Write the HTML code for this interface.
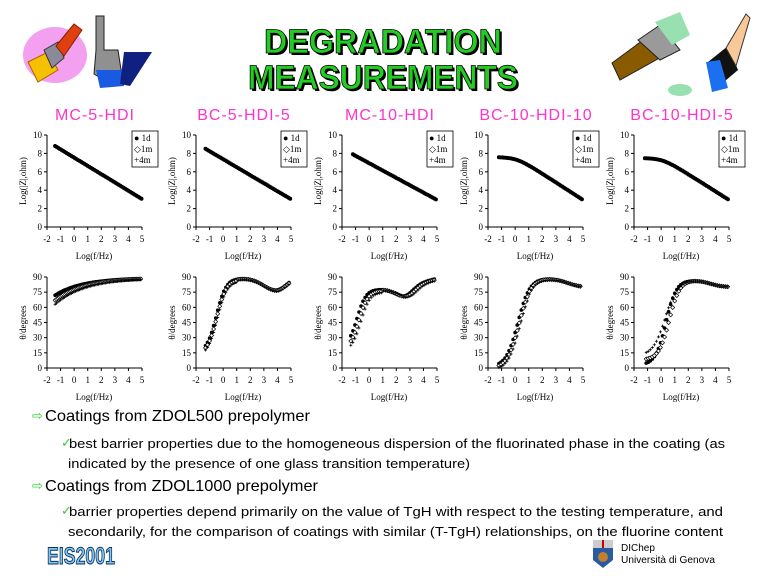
<!DOCTYPE html>
<html><head><meta charset="utf-8"><style>
html,body{margin:0;padding:0;background:#fff;width:768px;height:576px;overflow:hidden}
svg{display:block}
text{font-family:"Liberation Sans",sans-serif}
.s{font-family:"Liberation Serif",serif;font-size:9px}
</style></head><body>
<svg id="s" width="768" height="576" viewBox="0 0 768 576" xmlns="http://www.w3.org/2000/svg">
<ellipse cx="55" cy="55" rx="32" ry="28" fill="#f4a0f0"/>
<polygon points="28,62 48,52 58,70 38,82" fill="#f5c000" stroke="#b06000"/>
<polygon points="44,50 58,42 64,58 52,68" fill="#8a8a9a" stroke="#333"/>
<polygon points="56,46 74,24 82,30 64,56" fill="#e04010" stroke="#802000"/>
<path d="M96,16 L104,16 L104,50 L118,50 L122,76 L104,80 L94,74 L96,50 Z" fill="#909090" stroke="#222"/>
<polygon points="96,70 122,70 124,86 100,88" fill="#1a5ae0"/>
<polygon points="124,52 152,52 130,86 120,84" fill="#102080"/>
<polygon points="612,63 650,35 665,55 620,80" fill="#8a5a00" stroke="#222"/>
<polygon points="638,40 660,25 680,50 660,60" fill="#9a9a9a" stroke="#222"/>
<polygon points="655,22 680,12 690,35 672,45" fill="#98e0b0"/>
<ellipse cx="680" cy="90" rx="12" ry="6" fill="#98e0b0"/>
<polygon points="708,62 728,46 738,70 712,92" fill="#111"/>
<polygon points="706,62 712,92 728,88 720,60" fill="#1a70f0"/>
<polygon points="726,48 746,14 750,18 736,66" fill="#f8c898" stroke="#333"/>
<g font-family="Liberation Sans" font-weight="bold" font-size="34" text-anchor="middle">
<text x="385" y="55" fill="#000" textLength="238" lengthAdjust="spacingAndGlyphs">DEGRADATION</text>
<text x="383" y="53" fill="#22cc22" stroke="#000" stroke-width="0.8" textLength="238" lengthAdjust="spacingAndGlyphs">DEGRADATION</text>
<text x="385" y="91" fill="#000" textLength="270" lengthAdjust="spacingAndGlyphs">MEASUREMENTS</text>
<text x="383" y="89" fill="#22cc22" stroke="#000" stroke-width="0.8" textLength="270" lengthAdjust="spacingAndGlyphs">MEASUREMENTS</text>
</g>
<g id="charts"></g>
<g font-size="16" fill="#000">
<text x="32" y="420" fill="#33cc33" font-size="13">⇨</text>
<text x="45" y="421" textLength="265" lengthAdjust="spacingAndGlyphs">Coatings from ZDOL500 prepolymer</text>
<text x="32" y="490" fill="#33cc33" font-size="13">⇨</text>
<text x="45" y="491" textLength="273" lengthAdjust="spacingAndGlyphs">Coatings from ZDOL1000 prepolymer</text>
</g>
<g font-size="13" fill="#000">
<text x="61" y="447" fill="#33cc33">✓</text>
<text x="69" y="448" textLength="656" lengthAdjust="spacingAndGlyphs">best barrier properties due to the homogeneous dispersion of the fluorinated phase in the coating (as</text>
<text x="68" y="468" textLength="402" lengthAdjust="spacingAndGlyphs">indicated by the presence of one glass transition temperature)</text>
<text x="61" y="515" fill="#33cc33">✓</text>
<text x="69" y="516" textLength="654" lengthAdjust="spacingAndGlyphs">barrier properties depend primarily on the value of TgH with respect to the testing temperature, and</text>
<text x="68" y="536" textLength="655" lengthAdjust="spacingAndGlyphs">secondarily, for the comparison of coatings with similar (T-TgH) relationships, on the fluorine content</text>
</g>
<text x="47" y="564" font-size="24" font-weight="bold" fill="#7ec8f0" stroke="#103060" stroke-width="1" textLength="68" lengthAdjust="spacingAndGlyphs">EIS2001</text>
<path d="M593,540 L613,540 L613,560 L603,568 L593,560 Z" fill="#2a5aa0"/>
<rect x="593" y="540" width="20" height="8" fill="#ccc"/>
<rect x="602" y="540" width="2" height="8" fill="#c00"/>
<circle cx="603" cy="557" r="5" fill="#c08030"/>
<text x="621" y="551" font-size="10">DIChep</text>
<text x="621" y="563" font-size="10" textLength="94" lengthAdjust="spacingAndGlyphs">Università di Genova</text>
</svg>
<script>
var X0=[47,196,342,488,634],W=95,names=["MC-5-HDI","BC-5-HDI-5","MC-10-HDI","BC-10-HDI-10","BC-10-HDI-5"];
var g=document.getElementById('charts'),h='';
function sig(x){return 1/(1+Math.exp(-x));}
var top_=[
 function(x){return 8.8-(x+1.4)*0.9;},
 function(x){return 8.5-(x+1.3)*0.87;},
 function(x){return 7.9-(x+1.2)*0.80;},
 function(x){return 7.6-Math.log(1+Math.exp((x-0.1)*2.2))/2.2*0.95;},
 function(x){return 7.5-Math.log(1+Math.exp((x-0.1)*2.2))/2.2*0.93;}];
var bot=[
 [function(x){return 72+17*(1-Math.exp(-(x+1.4)*0.5));},function(x){return 67+22*(1-Math.exp(-(x+1.4)*0.5));},function(x){return 63+26*(1-Math.exp(-(x+1.4)*0.45));}],
 [function(x){return 15+74*sig((x+0.5)*2.8)-12*Math.exp(-Math.pow((x-3.9)/1.3,2))+(x>4?3*(x-4):0);},null,null],
 [function(x){return 20+58*sig((x+0.9)*3)-10*Math.exp(-Math.pow((x-2.6)/0.9,2))+3*Math.max(0,x-1.5);},null,null],
 [function(x){return 1+88*sig((x-0.2)*2.3)-9*sig((x-3.8)*2);},null,null],
 [function(x){return 3+84*sig((x-0.35)*2.6)-7*sig((x-3.6)*2.2);},function(x){return 8+79*sig((x-0.6)*2.6)-7*sig((x-3.6)*2.2);},function(x){return 12+75*sig((x-0.3)*2.2)-7*sig((x-3.6)*2.2);}]];
var starts=[-1.4,-1.3,-1.2,-1.2,-1.2],bstarts=[-1.4,-1.3,-1.35,-1.2,-1.1];
for(var c=0;c<5;c++){
 var x0=X0[c];
 h+='<text x="'+(x0+48)+'" y="120" font-size="16" fill="#ff33cc" text-anchor="middle" letter-spacing="1">'+names[c]+'</text>';
 var t0=135,t1=227;
 h+=axes(x0,t0,t1,[0,2,4,6,8,10],10,"Log(|Z|,ohm)");
 h+='<text x="'+(x0+47)+'" y="259" class="s" text-anchor="middle">Log(f/Hz)</text>';
 for(var x=starts[c];x<=5;x+=0.12){var v=top_[c](x);
  var px=x0+(x+2)*W/7,py=t1-v/10*(t1-t0);
  h+='<circle cx="'+px.toFixed(1)+'" cy="'+py.toFixed(1)+'" r="2" fill="#000"/>';}
 var lx=x0+85;
 h+='<rect x="'+lx+'" y="131" width="26" height="36" fill="#fff" stroke="#000" stroke-width="0.8"/>';
 h+='<text x="'+(lx+2)+'" y="141" class="s">● 1d</text><text x="'+(lx+2)+'" y="152" class="s">◇1m</text><text x="'+(lx+2)+'" y="163" class="s">+4m</text>';
 var b0=277,b1=368;
 h+=axes(x0,b0,b1,[0,15,30,45,60,75,90],90,"θ/degrees");
 h+='<text x="'+(x0+47)+'" y="400" class="s" text-anchor="middle">Log(f/Hz)</text>';
 var fs=bot[c];
 for(var k=0;k<3;k++){var f=fs[k]||fs[0];var dx=(k==0?0:(c==1?0.04*k:(c==2?0.15*k:0.08*k)));
  for(var x=bstarts[c];x<=4.9;x+=(c==0?0.1:0.15)){var v=f(x+(fs[k]?0:-dx))+(fs[k]?0:-k*1.5*(x<1?1:0.3));
   if(v<0)v=0;
   var px=x0+(x+2)*W/7,py=b1-v/90*(b1-b0);
   if(k==0)h+='<circle cx="'+px.toFixed(1)+'" cy="'+py.toFixed(1)+'" r="1.8" fill="#000"/>';
   else if(k==1)h+='<path d="M'+(px-2)+','+py+' l2,-2 l2,2 l-2,2 z" fill="#fff" stroke="#000" stroke-width="0.7"/>';
   else h+='<path d="M'+(px-1.5)+','+py+' h3 M'+px+','+(py-1.5)+' v3" stroke="#000" stroke-width="0.8"/>';}}
}
function axes(x0,t0,t1,ticks,max,lab){
 var s='<line x1="'+x0+'" y1="'+t0+'" x2="'+x0+'" y2="'+t1+'" stroke="#000"/><line x1="'+x0+'" y1="'+t1+'" x2="'+(x0+W)+'" y2="'+t1+'" stroke="#000"/>';
 for(var i=0;i<ticks.length;i++){var y=t1-ticks[i]/max*(t1-t0);
  s+='<line x1="'+(x0-3)+'" y1="'+y+'" x2="'+x0+'" y2="'+y+'" stroke="#000"/><text x="'+(x0-5)+'" y="'+(y+3)+'" class="s" text-anchor="end">'+ticks[i]+'</text>';}
 for(var v=-2;v<=5;v++){var x=x0+(v+2)*W/7;
  s+='<line x1="'+x+'" y1="'+t1+'" x2="'+x+'" y2="'+(t1+3)+'" stroke="#000"/><text x="'+x+'" y="'+(t1+15)+'" class="s" text-anchor="middle">'+v+'</text>';}
 var cy=(t0+t1)/2;
 s+='<text x="'+(x0-21)+'" y="'+cy+'" class="s" text-anchor="middle" transform="rotate(-90 '+(x0-21)+' '+cy+')">'+lab+'</text>';
 return s;}
g.innerHTML=h;
</script>
</body></html>
